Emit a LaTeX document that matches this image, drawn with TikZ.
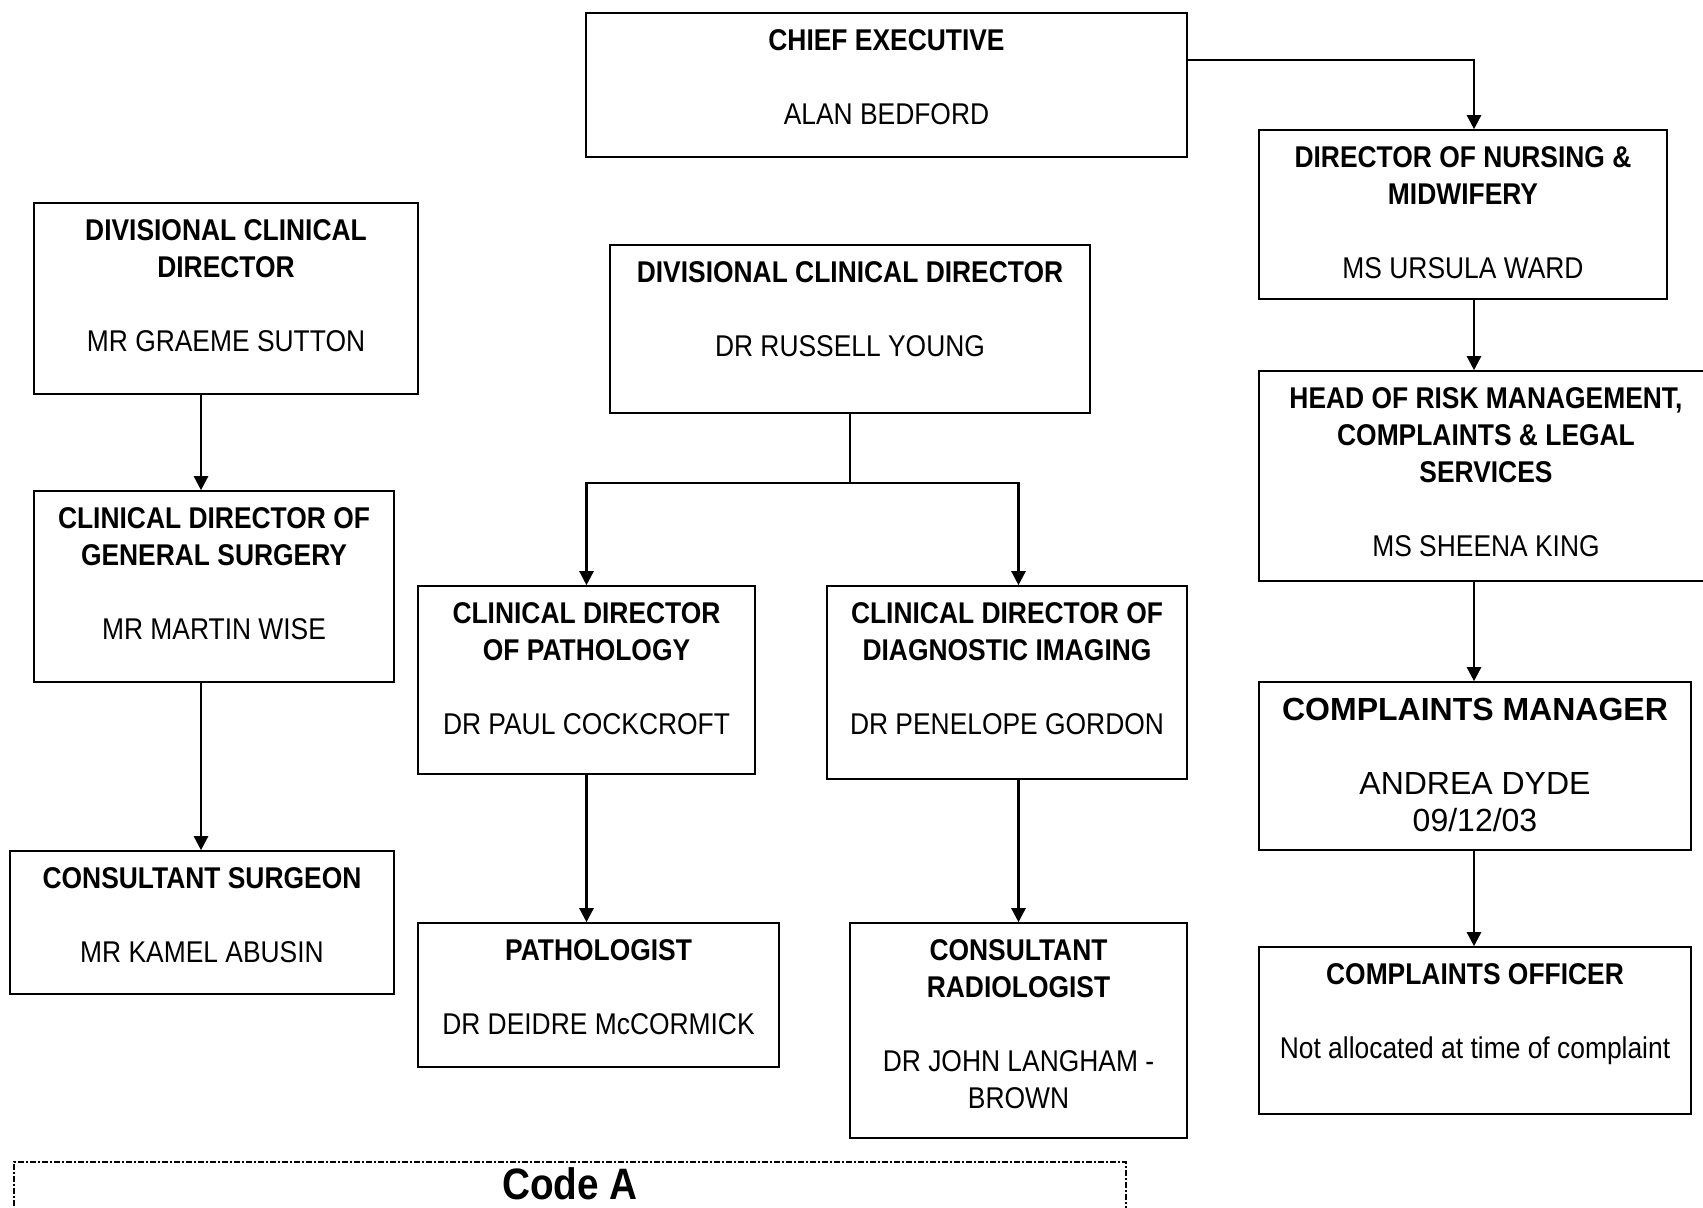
\documentclass[tikz,border=0pt]{standalone}
\usepackage{fontspec}
\setmainfont{Liberation Sans}
\newfontfamily\narrowsans[FakeStretch=0.88]{Liberation Sans}
\usetikzlibrary{positioning, fit, arrows.meta}

\begin{document}
\begin{tikzpicture}[x=0.5pt, y=-0.5pt,
    post/.style={draw, black, line width=0.8pt, inner sep=0pt},
    ptext/.style={align=center, inner sep=0pt, font=\narrowsans\fontsize{15}{18.5}\selectfont},
    wtext/.style={align=center, inner sep=0pt, font=\fontsize{16}{18.5}\selectfont},
    codebox/.style={draw, black, line width=0.6pt, inner sep=0pt, dash pattern=on 3pt off 1pt on 1pt off 1pt},
    arrow/.style={-{Triangle[length=7pt, width=7pt]}, line width=1.2pt},
    link/.style={line width=1.2pt},
    ]

    \useasboundingbox (0,0) rectangle (1703,1207);

    \coordinate (lcol) at (201,0);
    \coordinate (rcol) at (1474,0);
    \coordinate (fork) at (850,483);

    % boxes
    \node[post, fit={(586,13) (1187,157)}] (chief) {};
    \node[post, fit={(1259,130) (1667,299)}] (nursing) {};
    \node[post, fit={(34,203) (418,394)}] (divl) {};
    \node[post, fit={(610,245) (1090,413)}] (divc) {};
    \node[post, fit={(1259,371) (1713,581)}] (risk) {};
    \node[post, fit={(34,491) (394,682)}] (gensurg) {};
    \node[post, fit={(418,586) (755,774)}] (path) {};
    \node[post, fit={(827,586) (1187,779)}] (imag) {};
    \node[post, fit={(1259,682) (1691,850)}] (manager) {};
    \node[post, fit={(10,851) (394,994)}] (surgeon) {};
    \node[post, fit={(418,923) (779,1067)}] (pathologist) {};
    \node[post, fit={(850,923) (1187,1138)}] (radiol) {};
    \node[post, fit={(1259,947) (1691,1114)}] (officer) {};
    \node[codebox, fit={(14,1162) (1126,1240)}] (codea) {};

    % texts
    \node[ptext, below=8.5pt of chief.north] (chief-t) {\textbf{CHIEF EXECUTIVE}\\ \\ALAN BEDFORD};
    \node[ptext, below=8.5pt of nursing.north] (nursing-t) {\textbf{DIRECTOR OF NURSING \&}\\\textbf{MIDWIFERY}\\ \\MS URSULA WARD};
    \node[ptext, below=8.5pt of divl.north] (divl-t) {\textbf{DIVISIONAL CLINICAL}\\\textbf{DIRECTOR}\\ \\MR GRAEME SUTTON};
    \node[ptext, below=8.5pt of divc.north] (divc-t) {\textbf{DIVISIONAL CLINICAL DIRECTOR}\\ \\DR RUSSELL YOUNG};
    \node[ptext, below=8.5pt of risk.north] (risk-t) {\textbf{HEAD OF RISK MANAGEMENT,}\\\textbf{COMPLAINTS \& LEGAL}\\\textbf{SERVICES}\\ \\MS SHEENA KING};
    \node[ptext, below=8.5pt of gensurg.north] (gensurg-t) {\textbf{CLINICAL DIRECTOR OF}\\\textbf{GENERAL SURGERY}\\ \\MR MARTIN WISE};
    \node[ptext, below=8.5pt of path.north] (path-t) {\textbf{CLINICAL DIRECTOR}\\\textbf{OF PATHOLOGY}\\ \\DR PAUL COCKCROFT};
    \node[ptext, below=8.5pt of imag.north] (imag-t) {\textbf{CLINICAL DIRECTOR OF}\\\textbf{DIAGNOSTIC IMAGING}\\ \\DR PENELOPE GORDON};
    \node[wtext, below=8.5pt of manager.north] (manager-t) {\textbf{COMPLAINTS MANAGER}\\ \\ANDREA DYDE\\09/12/03};
    \node[ptext, below=8.5pt of surgeon.north] (surgeon-t) {\textbf{CONSULTANT SURGEON}\\ \\MR KAMEL ABUSIN};
    \node[ptext, below=8.5pt of pathologist.north] (pathologist-t) {\textbf{PATHOLOGIST}\\ \\DR DEIDRE McCORMICK};
    \node[ptext, below=8.5pt of radiol.north] (radiol-t) {\textbf{CONSULTANT}\\\textbf{RADIOLOGIST}\\ \\DR JOHN LANGHAM -\\BROWN};
    \node[ptext, below=8.5pt of officer.north] (officer-t) {\textbf{COMPLAINTS OFFICER}\\ \\Not allocated at time of complaint};
    \node[font=\narrowsans\bfseries\fontsize{22}{26}\selectfont, inner sep=0pt] (codea-t) at (570,1184) {Code A};

    % reporting lines
    \draw[arrow] ([yshift=12.5pt]chief.east) -| (nursing.north -| rcol);
    \draw[arrow] (nursing.south -| rcol) -- (risk.north -| rcol);
    \draw[arrow] (risk.south -| rcol) -- (manager.north -| rcol);
    \draw[arrow] (manager.south -| rcol) -- (officer.north -| rcol);

    \draw[arrow] (divl.south -| lcol) -- (gensurg.north -| lcol);
    \draw[arrow] (gensurg.south -| lcol) -- (surgeon.north -| lcol);

    \draw[link] (divc.south) -- (fork);
    \draw[arrow] (fork) -| (path.north);
    \draw[arrow] (fork) -| (imag.north -| radiol.north);
    \draw[arrow] (path.south) -- (path.south |- pathologist.north);
    \draw[arrow] (imag.south -| radiol.north) -- (radiol.north);

\end{tikzpicture}
\end{document}
